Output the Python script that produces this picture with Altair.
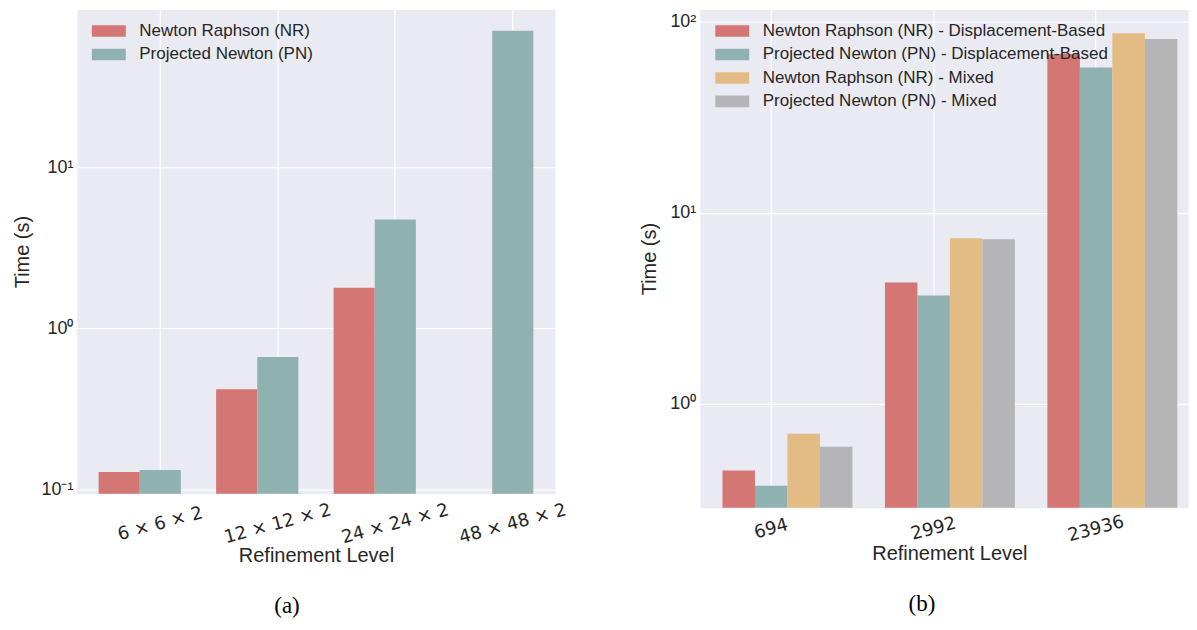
import altair as alt
import pandas as pd

# ---------------- Panel (a) ----------------
levels_a = ["6 × 6 × 2", "12 × 12 × 2", "24 × 24 × 2", "48 × 48 × 2"]
series_a = ["Newton Raphson (NR)", "Projected Newton (PN)"]
nr_a = [0.128, 0.418, 1.79, None]
pn_a = [0.132, 0.664, 4.75, 70.5]
colors_a = ["#D47674", "#8FB2B1"]

# ---------------- Panel (b) ----------------
levels_b = ["694", "2992", "23936"]
series_b = [
    "Newton Raphson (NR) - Displacement-Based",
    "Projected Newton (PN) - Displacement-Based",
    "Newton Raphson (NR) - Mixed",
    "Projected Newton (PN) - Mixed",
]
nr_disp_b = [0.449, 4.31, 67.5]
pn_disp_b = [0.373, 3.69, 57.5]
nr_mixed_b = [0.697, 7.35, 86.9]
pn_mixed_b = [0.596, 7.26, 81.1]
colors_b = ["#D47674", "#8FB2B1", "#E2BC84", "#B5B5B7"]

rows_a = []
for s, vals in zip(series_a, [nr_a, pn_a]):
    for lvl, v in zip(levels_a, vals):
        if v is not None:
            rows_a.append({"level": lvl, "series": s, "time": v})
df_a = pd.DataFrame(rows_a)

rows_b = []
for s, vals in zip(series_b, [nr_disp_b, pn_disp_b, nr_mixed_b, pn_mixed_b]):
    for lvl, v in zip(levels_b, vals):
        rows_b.append({"level": lvl, "series": s, "time": v})
df_b = pd.DataFrame(rows_b)

TXT = "#262626"
rect_path = "M-3.09,-1.05L3.09,-1.05L3.09,1.05L-3.09,1.05Z"


def legend(x, y):
    return alt.Legend(
        title=None, orient="none", legendX=x, legendY=y,
        symbolType=rect_path, symbolSize=121, symbolStrokeWidth=0, symbolOpacity=1,
        labelFont="Liberation Sans", labelFontSize=17, labelColor=TXT,
        labelOffset=22, rowPadding=5.5, padding=0, labelLimit=600,
    )


def yaxis(values, expr, title_x):
    return alt.Axis(
        values=values, labelExpr=expr, title="Time (s)",
        labelFont="Liberation Sans", labelFontSize=18, labelColor=TXT,
        labelPadding=4, ticks=False, domain=False,
        titleFont="Liberation Sans", titleFontSize=20, titleColor=TXT,
        titleFontWeight="normal", titleX=title_x, titleBaseline="middle",
        grid=True, gridColor="white", gridWidth=1.2,
    )


def xaxis(band_pos, pad, lab_off, title_x, title_y):
    return alt.Axis(
        title="Refinement Level", bandPosition=band_pos,
        labelAngle=345, labelAlign="center", labelBaseline="middle",
        labelPadding=pad, labelOffset=lab_off, labelFont="DejaVu Sans", labelFontSize=18,
        labelColor=TXT, ticks=False, domain=False,
        titleFont="Liberation Sans", titleFontSize=20, titleColor=TXT,
        titleFontWeight="normal", titleX=title_x, titleY=title_y,
        titleBaseline="top", grid=True, gridColor="white", gridWidth=1.2,
    )


chart_a = alt.Chart(df_a).mark_bar().encode(
    x=alt.X("level:N", sort=levels_a,
            scale=alt.Scale(paddingInner=0.3, paddingOuter=0.185),
            axis=xaxis(0.75, 30, 20.6, 239.5, 52)),
    xOffset=alt.XOffset("series:N", sort=series_a,
                        scale=alt.Scale(domain=series_a, paddingInner=0, paddingOuter=0)),
    y=alt.Y("time:Q", stack=None,
            scale=alt.Scale(type="log", domain=[0.094, 95.6], nice=False),
            axis=yaxis([0.1, 1, 10],
                       "datum.value < 0.5 ? '10⁻¹' : datum.value < 5 ? '10⁰' : '10¹'",
                       -54)),
    color=alt.Color("series:N", scale=alt.Scale(domain=series_a, range=colors_a),
                    legend=legend(23.5, 13)),
).properties(
    width=479, height=485,
    title=alt.TitleParams("(a)", orient="bottom", font="Liberation Serif", fontSize=23,
                          fontWeight="normal", color="black", dx=-29, offset=30),
)

chart_b = alt.Chart(df_b).mark_bar().encode(
    x=alt.X("level:N", sort=levels_b,
            scale=alt.Scale(paddingInner=0.2, paddingOuter=0.1026, align=0.68),
            axis=xaxis(0.375, 21, -16.3, 250, 36)),
    xOffset=alt.XOffset("series:N", sort=series_b,
                        scale=alt.Scale(domain=series_b, paddingInner=0, paddingOuter=0)),
    y=alt.Y("time:Q", stack=None,
            scale=alt.Scale(type="log", domain=[0.2866, 115.5], nice=False),
            axis=yaxis([1, 10, 100],
                       "datum.value < 5 ? '10⁰' : datum.value < 50 ? '10¹' : '10²'",
                       -50)),
    color=alt.Color("series:N", scale=alt.Scale(domain=series_b, range=colors_b),
                    legend=legend(24, 13)),
).properties(
    width=489, height=499,
    title=alt.TitleParams("(b)", orient="bottom", font="Liberation Serif", fontSize=23,
                          fontWeight="normal", color="black", dx=-22, offset=30),
)

chart = alt.HConcatChart(hconcat=[chart_a, chart_b], spacing=145, bounds="flush").resolve_scale(
    color="independent", xOffset="independent"
).resolve_legend(color="independent").properties(
    padding={"left": 4, "top": 0, "right": 0, "bottom": 0},
    background="white",
).configure_view(fill="#EAEAF2", stroke="transparent")

chart.save("out.html", embed_options={"renderer": "svg", "actions": False})
